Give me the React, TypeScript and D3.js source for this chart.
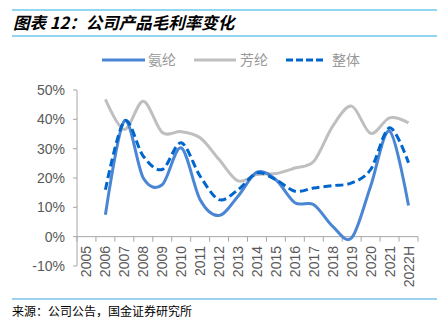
import React from "react";
import * as d3 from "d3";

const categories = ["2005","2006","2007","2008","2009","2010","2011","2012","2013","2014","2015","2016","2017","2018","2019","2020","2021","2022H"];
const spandex: (number|null)[] = [null,7.5,39.5,20.0,17.7,30.3,12.6,7.2,13.8,22.0,19.4,11.6,10.9,3.5,-0.4,17.2,36.0,10.6];
const aramid: (number|null)[] = [null,46.8,36.5,46.2,35.5,35.8,33.7,26.3,19.0,21.2,21.5,23.4,25.7,37.7,44.5,35.2,40.5,38.8];
const overall: (number|null)[] = [null,16.0,39.4,27.4,22.9,32.0,20.6,12.6,16.0,21.7,19.4,15.5,16.6,17.4,18.3,22.9,37.1,25.2];
const yTicks = [-10,0,10,20,30,40,50];
const seriesNames = ["氨纶","芳纶","整体"];

export default function App() {
  const W = 447, H = 322;
  const x = d3.scaleBand<string>().domain(categories).range([77, 418]);
  const y = d3.scaleLinear().domain([-10, 50]).range([266, 90]);
  const line = d3.line<number|null>()
    .defined(d => d !== null)
    .x((_, i) => (x(categories[i]) as number) + x.bandwidth() / 2)
    .y(d => y(d as number))
    .curve(d3.curveCardinal.tension(0.05));
  const axisColor = "#a6a6a6";
  const tickFont = "'Liberation Sans', Arial, sans-serif";
  const cjk = "'Noto Sans CJK SC', sans-serif";
  const legend = [
    { name: seriesNames[0], color: "#4a86d4", dash: undefined, x1: 102, x2: 145, tx: 148 },
    { name: seriesNames[1], color: "#bfbfbf", dash: undefined, x1: 194, x2: 236, tx: 240 },
    { name: seriesNames[2], color: "#0066cc", dash: "7 3", x1: 286, x2: 326, tx: 332 },
  ];
  return (
    <svg width={W} height={H} style={{ position: "absolute", left: 0, top: 0, background: "#fff" }}>
      <line x1={12} x2={437} y1={10} y2={10} stroke="#29aae2" strokeWidth={1} />
      <line x1={12} x2={437} y1={36} y2={36} stroke="#29aae2" strokeWidth={1} />
      <text x={13} y={29} fontFamily={cjk} fontSize={16.5} fontWeight="bold" fontStyle="italic" fill="#000">图表 12：公司产品毛利率变化</text>
      {legend.map(l => (
        <g key={l.name}>
          <line x1={l.x1} x2={l.x2} y1={60} y2={60} stroke={l.color} strokeWidth={3} strokeDasharray={l.dash} />
          <text x={l.tx} y={65} fontFamily={cjk} fontSize={14} fill="#999999">{l.name}</text>
        </g>
      ))}
      {/* y axis */}
      <line x1={77} x2={77} y1={y(50)} y2={y(-10)} stroke={axisColor} />
      {yTicks.map(t => (
        <g key={t}>
          <line x1={73} x2={77} y1={y(t)} y2={y(t)} stroke={axisColor} />
          <text x={65} y={y(t) + 5} textAnchor="end" fontFamily={tickFont} fontSize={14} fill="#595959">{t}%</text>
        </g>
      ))}
      {/* x axis */}
      <line x1={77} x2={418} y1={y(0)} y2={y(0)} stroke={axisColor} />
      {categories.map(c => (
        <line key={"t" + c} x1={(x(c) as number) + x.bandwidth()} x2={(x(c) as number) + x.bandwidth()} y1={y(0)} y2={y(0) + 5} stroke={axisColor} />
      ))}
      <line x1={77} x2={77} y1={y(0)} y2={y(0) + 5} stroke={axisColor} />
      {categories.map(c => {
        const cx = (x(c) as number) + x.bandwidth() / 2;
        return (
          <text key={c} transform={`translate(${cx + 5},246) rotate(-90)`} textAnchor="end" fontFamily={tickFont} fontSize={14} fill="#595959">{c}</text>
        );
      })}
      <path d={line(aramid) || ""} fill="none" stroke="#bfbfbf" strokeWidth={3} />
      <path d={line(spandex) || ""} fill="none" stroke="#4a86d4" strokeWidth={3} />
      <path d={line(overall) || ""} fill="none" stroke="#0066cc" strokeWidth={3} strokeDasharray="8 4" />
      <line x1={12} x2={437} y1={299} y2={299} stroke="#7cc3ea" strokeWidth={1.5} />
      <text x={12} y={316} fontFamily={cjk} fontSize={12} fill="#000">来源：公司公告，国金证券研究所</text>
    </svg>
  );
}
